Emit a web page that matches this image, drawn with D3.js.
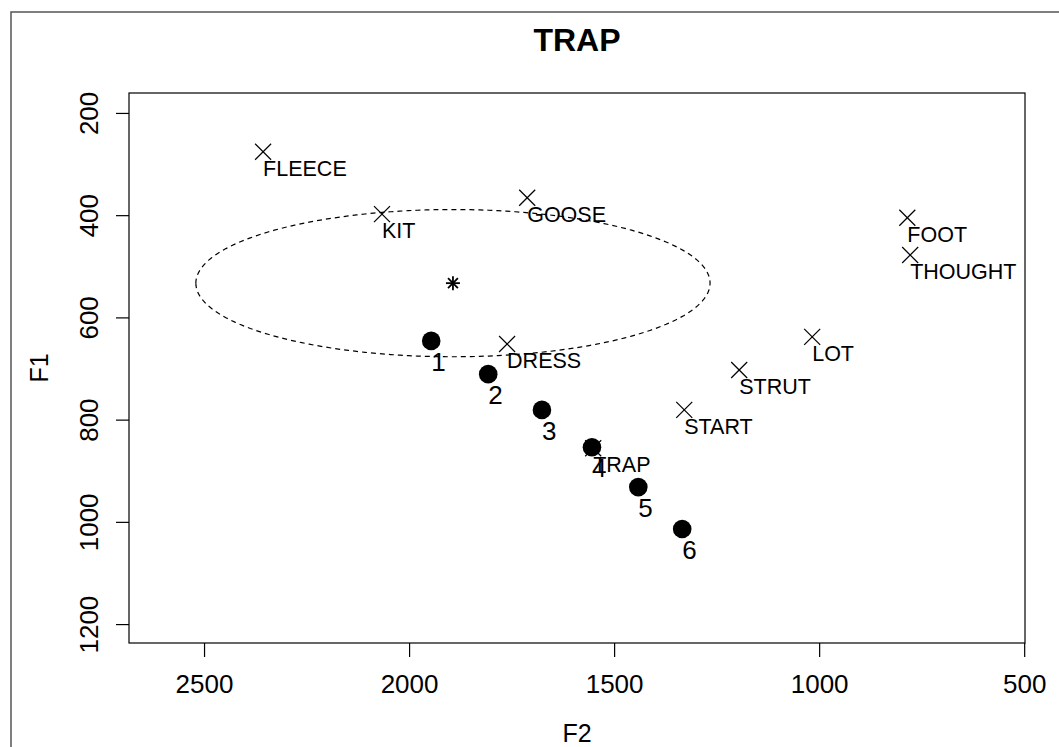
<!DOCTYPE html>
<html><head><meta charset="utf-8">
<script src="https://cdn.jsdelivr.net/npm/d3@7"></script>
<style>body{margin:0;background:#fff}svg{display:block}text{font-family:"Liberation Sans",Arial,sans-serif;fill:#000}</style>
</head><body><svg id="c" width="1059" height="747"></svg>
<script>
const title = "TRAP";
const xLabel = "F2", yLabel = "F1";
const xTicks = [2500, 2000, 1500, 1000, 500];
const yTicks = [200, 400, 600, 800, 1000, 1200];
const words = ["FLEECE","KIT","GOOSE","DRESS","TRAP","START","STRUT","LOT","FOOT","THOUGHT"];
const wordF2 = [2356, 2066, 1712, 1761, 1551, 1329, 1195, 1017, 785, 778];
const wordF1 = [276, 398, 366, 652, 856, 781, 703, 638, 405, 478];
const tokenLabels = ["1","2","3","4","5","6"];
const tokenF2 = [1946, 1807, 1676, 1554, 1441, 1334];
const tokenF1 = [646, 711, 781, 854, 932, 1014];
const ellipseCenter = [1893, 533];
const ellipseRadii = [627, 144];

const L = 129, R = 1025, T = 93, B = 643;
const svg = d3.select("#c");
const x = d3.scaleLinear().domain([2683, 498]).range([L, R]);
const y = d3.scaleLinear().domain([161, 1237]).range([T, B]);

// outer frame
svg.append("rect").attr("x", 11).attr("y", 12).attr("width", 1100).attr("height", 800)
  .attr("fill", "none").attr("stroke", "#555").attr("stroke-width", 1.5);

// plot box
svg.append("rect").attr("x", L).attr("y", T).attr("width", R - L).attr("height", B - T)
  .attr("fill", "none").attr("stroke", "#000").attr("stroke-width", 1.2);

// axes
const gx = svg.append("g").attr("transform", `translate(0,${B})`)
  .call(d3.axisBottom(x).tickValues(xTicks).tickSize(14).tickSizeOuter(0).tickFormat(d3.format("d")));
gx.select(".domain").remove();
gx.selectAll("line").attr("stroke", "#000").attr("stroke-width", 1.2);
gx.selectAll("text").attr("font-size", 26).attr("dy", null).attr("y", 50).style("font-family", "Liberation Sans, Arial");

const gy = svg.append("g").attr("transform", `translate(${L},0)`)
  .call(d3.axisLeft(y).tickValues(yTicks).tickSize(13).tickSizeOuter(0).tickFormat(d3.format("d")));
gy.select(".domain").remove();
gy.selectAll("line").attr("stroke", "#000").attr("stroke-width", 1.2);
gy.selectAll("text").attr("font-size", 26).attr("dy", null).attr("x", null)
  .attr("text-anchor", "middle").attr("transform", "translate(-31,0) rotate(-90)")
  .style("font-family", "Liberation Sans, Arial");

// titles
svg.append("text").attr("x", (L + R) / 2).attr("y", 51).attr("text-anchor", "middle")
  .attr("font-size", 32).attr("font-weight", "bold").text(title);
svg.append("text").attr("x", (L + R) / 2).attr("y", 742).attr("text-anchor", "middle")
  .attr("font-size", 25).text(xLabel);
svg.append("text").attr("transform", `translate(48,${(T + B) / 2}) rotate(-90)`).attr("text-anchor", "middle")
  .attr("font-size", 25).text(yLabel);

// ellipse
const angles = d3.range(0, 361, 2).map(a => a * Math.PI / 180);
const line = d3.line().x(a => x(ellipseCenter[0] + ellipseRadii[0] * Math.cos(a)))
  .y(a => y(ellipseCenter[1] + ellipseRadii[1] * Math.sin(a)));
svg.append("path").attr("d", line(angles)).attr("fill", "none").attr("stroke", "#000")
  .attr("stroke-width", 1.2).attr("stroke-dasharray", "5,4");

// centroid star
const sx = x(ellipseCenter[0]), sy = y(ellipseCenter[1]), sr = 7;
const star = svg.append("g").attr("stroke", "#000").attr("stroke-width", 1.8);
[[sr,0],[0,sr],[sr*0.707,sr*0.707],[sr*0.707,-sr*0.707]].forEach(([dx,dy]) => {
  star.append("line").attr("x1", sx - dx).attr("y1", sy - dy).attr("x2", sx + dx).attr("y2", sy + dy);
});

// word markers
const wm = svg.append("g").attr("stroke", "#000").attr("stroke-width", 1.2);
words.forEach((w, i) => {
  const px = x(wordF2[i]), py = y(wordF1[i]), r = 8;
  wm.append("line").attr("x1", px - r).attr("y1", py - r).attr("x2", px + r).attr("y2", py + r);
  wm.append("line").attr("x1", px - r).attr("y1", py + r).attr("x2", px + r).attr("y2", py - r);
});

// token points
tokenLabels.forEach((t, i) => {
  svg.append("circle").attr("cx", x(tokenF2[i])).attr("cy", y(tokenF1[i])).attr("r", 9.3).attr("fill", "#000");
});

// word labels
words.forEach((w, i) => {
  svg.append("text").attr("x", x(wordF2[i])).attr("y", y(wordF1[i]) + 24).attr("font-size", 21.5).text(w);
});
// token labels
tokenLabels.forEach((t, i) => {
  svg.append("text").attr("x", x(tokenF2[i])).attr("y", y(tokenF1[i]) + 30).attr("font-size", 26).text(t);
});
</script></body></html>
